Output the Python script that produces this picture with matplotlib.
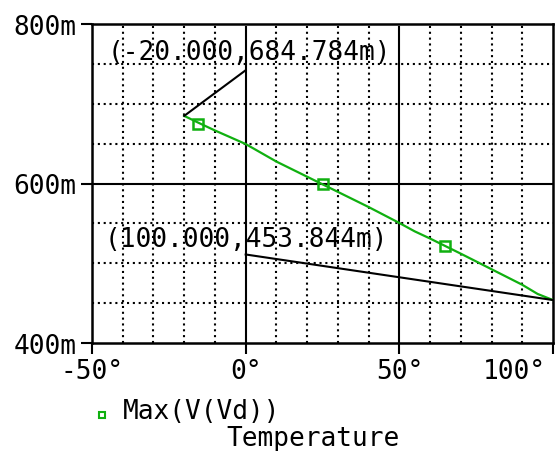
import numpy as np
import matplotlib
matplotlib.use("Agg")
import matplotlib.pyplot as plt
from matplotlib.lines import Line2D
from matplotlib.transforms import ScaledTranslation

plt.rcParams['font.family'] = ['DejaVu Sans Mono']
plt.rcParams['axes.unicode_minus'] = False

# Datos (temperatura en grados, tension en mV)
temp = [-20, -15, -10, -5, 0, 10, 20, 30, 40, 50, 55, 60, 70, 80, 90, 95, 100]
vmax = [684.784, 675.5, 666.5, 658.0, 649.5, 627.5, 608.5, 589.5, 570.5,
        550.5, 540.0, 531.0, 512.0, 492.5, 473.0, 461.5, 453.844]

# marcadores del trazo
mark_temp = [-15.5, 25, 65]
mark_v = [674.5, 599.5, 521.5]

# cursores
cur1_x = [-20, 0]
cur1_y = [684.784, 742]
cur2_x = [0, 100]
cur2_y = [511, 453.844]

xticks = [-50, 0, 50, 100]
xlabels = ['-50°', '0°', '50°', '100°']
yticks = [400, 600, 800]
ylabels = ['400m', '600m', '800m']

verde = '#10b010'
fs = 18.8

fig = plt.figure(figsize=(5.56, 4.52), dpi=100)
ax = fig.add_axes([92/556, 1-344/452, (553-92)/556, (344-25)/452])

# rejilla punteada
for x in np.arange(-40, 100, 10):
    if x in (0, 50):
        ax.axvline(x, color='black', lw=1.5, zorder=1, ymax=0.99)
    else:
        ax.axvline(x, color='black', lw=1.5, ls=(0, (1, 1.8)), zorder=1)
for y in np.arange(450, 800, 50):
    if y == 600:
        ax.axhline(y, color='black', lw=1.5, zorder=1)
    else:
        ax.axhline(y, color='black', lw=1.5, ls=(0, (1, 1.8)), zorder=1)

ax.plot(temp, vmax, color=verde, lw=1.6, zorder=3)
ax.plot(mark_temp, mark_v, ls='none', marker='s', ms=7.5, mfc='none',
        mec=verde, mew=1.8, zorder=4)

ax.plot(cur1_x, cur1_y, color='black', lw=1.5, zorder=3)
ax.plot(cur2_x, cur2_y, color='black', lw=1.5, zorder=3)
ax.text(-45, 765, '(-20.000,684.784m)', fontsize=fs, va='center', ha='left')
ax.text(-46, 530, '(100.000,453.844m)', fontsize=fs, va='center', ha='left')

ax.set_xlim(-50, 100)
ax.set_ylim(400, 800)
ax.set_xticks(xticks)
ax.set_xticklabels(xlabels, fontsize=fs)
ax.set_yticks(yticks)
ax.set_yticklabels(ylabels, fontsize=fs)
ax.tick_params(direction='out', length=8, width=1.5, pad=3)

# la ultima etiqueta se corre a la izquierda para que quepa
ult = ax.get_xticklabels()[-1]
ult.set_ha('right')
ult.set_transform(ult.get_transform() + ScaledTranslation(-0.07, 0, fig.dpi_scale_trans))

for s in ax.spines.values():
    s.set_linewidth(1.8)

# leyenda
fig.add_artist(Line2D([102/556], [1-416/452], marker='s', ms=5, mfc='none',
                      mec=verde, mew=1.5, transform=fig.transFigure))
fig.text(123/556, 1-412/452, 'Max(V(Vd))', fontsize=fs, va='center', ha='left')
fig.text(313/556, 1-439/452, 'Temperature', fontsize=fs, va='center', ha='center')

plt.savefig('out.png', dpi=100)
